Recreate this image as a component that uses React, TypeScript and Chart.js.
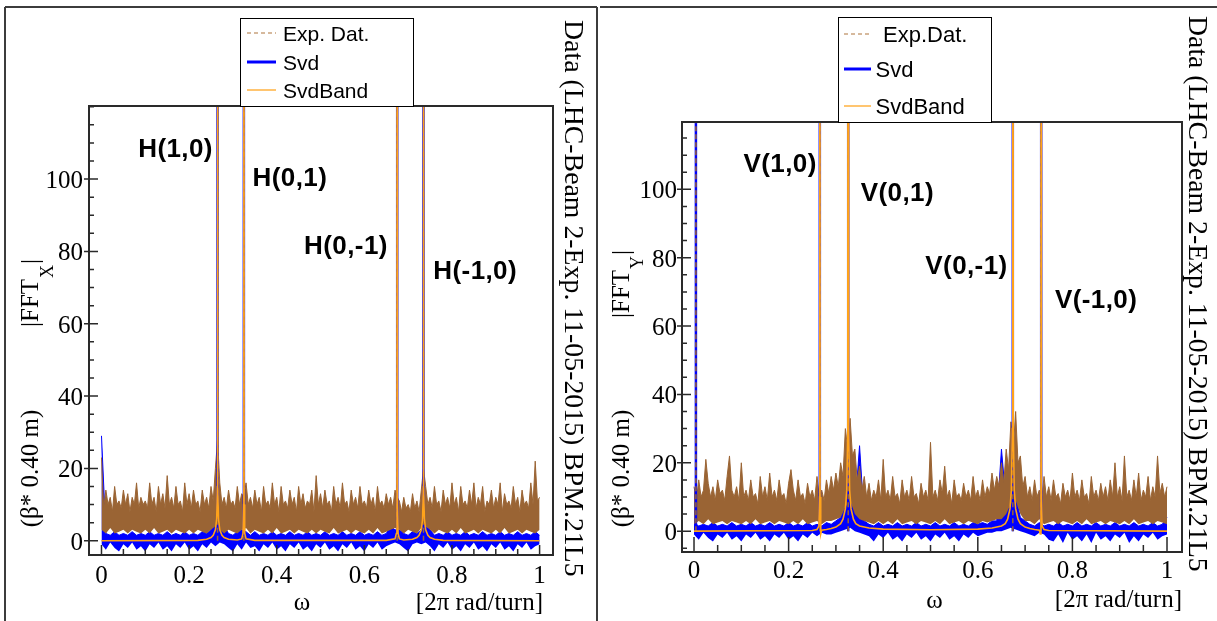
import React, { useEffect, useRef } from "react";
import { Chart, registerables } from "chart.js";

Chart.register(...registerables);

// ---------------- data ----------------
const EXP_STEP = 0.005; // omega spacing of the Exp. Dat. upper envelope (0.000 ... 1.000)
const BIN_STEP = 0.01; // omega spacing of the other envelopes (0.00 ... 1.00)

const X_TICK_VALUES = [0, 0.2, 0.4, 0.6, 0.8, 1];
const X_TICK_LABELS = ["0", "0.2", "0.4", "0.6", "0.8", "1"];
const Y_TICK_VALUES = [0, 20, 40, 60, 80, 100];
const Y_TICK_LABELS = ["0", "20", "40", "60", "80", "100"];
const X_MINOR_STEP = 0.05;
const Y_MINOR_STEP = 5;

const LEGEND_LABELS_H = ["Exp. Dat.", "Svd", "SvdBand"];
const LEGEND_LABELS_V = ["Exp.Dat.", "Svd", "SvdBand"];
const SIDE_TEXT = "Data (LHC-Beam 2-Exp. 11-05-2015) BPM.21L5";

// Horizontal plane (left)
const H_EXP_HI = [
  23, 9, 14, 10, 12, 8, 15, 10, 11, 9, 14, 10, 13, 8, 12, 10, 16, 9, 12, 10,
  11, 9, 16, 10, 12, 8, 15, 10, 13, 9, 18, 10, 12, 9, 15, 10, 11, 8, 16, 10,
  13, 9, 14, 10, 11, 8, 14, 10, 12, 9, 15, 11, 20, 28, 16, 10, 12, 9, 14, 10,
  11, 9, 15, 10, 13, 12, 16, 10, 12, 9, 14, 10, 12, 8, 15, 10, 11, 9, 16, 10,
  12, 8, 15, 10, 11, 9, 14, 10, 12, 8, 15, 10, 13, 9, 11, 10, 14, 8, 18, 10,
  13, 9, 14, 10, 11, 8, 15, 10, 12, 9, 16, 10, 11, 8, 14, 10, 12, 9, 15, 10,
  11, 9, 14, 10, 12, 8, 15, 10, 11, 9, 13, 10, 12, 9, 14, 12, 11, 8, 12, 9,
  10, 8, 13, 9, 11, 8, 14, 20, 15, 10, 12, 9, 15, 10, 11, 8, 14, 10, 12, 9,
  16, 10, 12, 8, 15, 10, 11, 9, 14, 10, 16, 9, 12, 10, 15, 8, 11, 10, 14, 9,
  12, 10, 16, 8, 13, 10, 11, 9, 15, 10, 12, 8, 14, 10, 11, 9, 16, 10, 22, 11,
  12,
];
const H_EXP_LO = [
  3, 2, 3.5, 2, 2.5, 3, 2, 3, 2.5, 2,
  3, 2, 3.5, 2, 2.5, 3, 2, 3, 2.5, 2,
  3, 2, 3, 2.5, 2, 3, 4, 3, 2, 3,
  2.5, 2, 3, 3.5, 2, 3, 2.5, 2, 3, 2,
  3.5, 2, 2.5, 3, 2, 3, 2.5, 2, 3, 2,
  3, 2.5, 2, 3.5, 2, 2.5, 3, 2, 3, 2.5,
  2, 3, 2, 3.5, 2, 2.5, 3, 3.5, 3, 2,
  3, 2.5, 2, 3.5, 4, 3, 2, 3, 2.5, 2,
  3, 2, 3.5, 2, 2.5, 3, 2, 3, 2.5, 2,
  3, 2, 3.5, 2, 2.5, 3, 2, 3, 2.5, 2,
  3,
];
const H_SVD_HI = [
  29, 2, 1.5, 2.5, 1.5, 2, 1.5, 2.5, 1.5, 2,
  1.5, 2.5, 1.5, 2, 1.5, 2.5, 1.5, 2, 1.5, 2.5,
  1.5, 2, 1.5, 2.5, 2, 3, 5, 3, 4, 2,
  1.5, 2.5, 3, 2.5, 1.5, 2.5, 1.5, 2, 1.5, 2.5,
  1.5, 2, 1.5, 2.5, 1.5, 2, 1.5, 2.5, 1.5, 2,
  1.5, 2.5, 1.5, 2, 1.5, 2.5, 1.5, 2, 1.5, 2.5,
  1.5, 2, 1.5, 2.5, 1.5, 2, 4, 3, 3, 2,
  1.5, 2.5, 2, 3, 4, 3, 1.5, 2, 1.5, 2.5,
  1.5, 2, 1.5, 2.5, 1.5, 2, 1.5, 2.5, 1.5, 2,
  1.5, 2.5, 1.5, 2, 1.5, 2.5, 1.5, 2, 1.5, 2.5,
  1.5,
];
const H_SVD_LO = [
  -1, -2.5, -0.5, -2, -3, -1, -2, -0.5, -2.5, -1.5,
  -3, -1, -2, -0.5, -2.5, -1.5, -3, -1, -2, -0.5,
  -2.5, -1.5, -3, -1, -2, -0.5, -1.5, -0.5, -1, -2,
  -3, -1, -2.5, -0.5, -2, -1.5, -3, -1, -2, -0.5,
  -2.5, -1.5, -3, -1, -2, -0.5, -2.5, -1.5, -3, -1,
  -2, -0.5, -2.5, -1.5, -3, -1, -2, -0.5, -2.5, -1.5,
  -3, -1, -2, -0.5, -2.5, -1.5, -1, -0.5, -1, -2,
  -3, -1, -0.5, -1, -0.5, -1.5, -3, -1, -2, -0.5,
  -2.5, -1.5, -3, -1, -2, -0.5, -2.5, -1.5, -3, -1,
  -2, -0.5, -2.5, -1.5, -3, -1, -2, -0.5, -2.5, -1.5,
  -1,
];
const H_BAND_X = [
  0, 0.22, 0.24, 0.25, 0.255, 0.26, 0.263, 0.2645, 0.265, 0.2655,
  0.267, 0.27, 0.275, 0.28, 0.29, 0.31, 0.32, 0.323, 0.3245, 0.325,
  0.3255, 0.327, 0.33, 0.35, 0.65, 0.67, 0.673, 0.6745, 0.675, 0.6755,
  0.677, 0.68, 0.69, 0.71, 0.72, 0.725, 0.73, 0.733, 0.7345, 0.735,
  0.7355, 0.737, 0.74, 0.745, 0.75, 0.76, 0.78, 1,
];
const H_BAND_Y = [
  0, 0.1, 0.4, 0.9, 1.5, 3, 6, 15, 300, 15,
  6, 3, 1.5, 0.9, 0.4, 0.2, 0.5, 2, 10, 300,
  10, 2, 0.5, 0.1, 0.1, 0.5, 2, 10, 300, 10,
  2, 0.5, 0.2, 0.4, 0.9, 1.5, 3, 6, 15, 300,
  15, 6, 3, 1.5, 0.9, 0.4, 0.1, 0,
];
const H_PEAK_X = [0.265, 0.325, 0.675, 0.735];
const H_EXP_PEAK_Y = [420, 380, 400, 450];
const H_SVD_PEAK_Y = [440, 390, 410, 460];
const H_LABELS = ["H(1,0)", "H(0,1)", "H(0,-1)", "H(-1,0)"];
const H_LABEL_X = [0.169, 0.43, 0.558, 0.853];
const H_LABEL_Y = [108.0, 100.0, 81.3, 74.4];

// Vertical plane (right)
const V_EXP_HI = [
  13, 9, 15, 10, 12, 21, 14, 10, 13, 9, 15, 11, 12, 9, 16, 22, 12, 10, 13, 9,
  20, 10, 12, 9, 15, 10, 11, 8, 16, 10, 13, 9, 17, 10, 12, 9, 15, 10, 11, 8,
  14, 18, 12, 9, 15, 10, 11, 8, 14, 10, 12, 9, 16, 10, 12, 9, 15, 11, 16, 12,
  17, 13, 20, 16, 30, 24, 33, 22, 24, 15, 19, 12, 16, 10, 14, 9, 12, 10, 15, 9,
  21, 10, 12, 9, 16, 10, 11, 8, 15, 10, 12, 9, 16, 10, 11, 8, 14, 10, 12, 9,
  26, 10, 12, 9, 15, 11, 19, 10, 12, 8, 15, 10, 11, 9, 14, 10, 12, 9, 16, 10,
  12, 9, 15, 10, 13, 11, 17, 12, 16, 13, 20, 14, 24, 18, 32, 24, 35, 20, 22, 13,
  16, 10, 13, 9, 15, 10, 12, 9, 16, 10, 13, 9, 15, 10, 11, 8, 14, 10, 12, 9,
  17, 10, 12, 9, 15, 10, 11, 8, 16, 10, 12, 9, 14, 10, 13, 9, 15, 10, 20, 10,
  13, 9, 22, 10, 12, 9, 15, 10, 17, 9, 12, 10, 16, 9, 13, 10, 22, 11, 14, 10,
  13,
];
const V_EXP_LO = [
  2, 3, 2, 3.5, 2, 2.5, 3, 2, 3, 2.5,
  2, 3, 2, 3.5, 2, 2.5, 3, 2, 3, 2.5,
  2, 3, 2, 3.5, 2, 2.5, 3, 2, 3, 3,
  3.5, 4, 7, 9, 5, 3.5, 3, 2.5, 2, 3,
  2, 3, 2, 3.5, 2, 2.5, 3, 2, 3, 2.5,
  2, 3, 2, 3.5, 2, 2.5, 3, 2, 3, 2.5,
  2, 3, 2.5, 3, 3.5, 3.5, 5, 8, 9, 5,
  3, 3, 2, 3.5, 2, 2.5, 3, 2, 3, 2.5,
  2, 3, 2, 3.5, 2, 2.5, 3, 2, 3, 2.5,
  2, 3, 2, 3.5, 2, 2.5, 3, 2, 3, 2.5,
  2,
];
const V_SVD_HI = [
  2.5, 1.5, 2, 1.5, 2.5, 1.5, 2, 1.5, 2.5, 1.5,
  2, 1.5, 2.5, 1.5, 2, 1.5, 2.5, 1.5, 2, 1.5,
  2.5, 1.5, 2, 1.5, 2.5, 1.5, 2, 1.5, 2.5, 2,
  3, 4, 10, 12, 6, 25, 3, 2, 1.5, 2.5,
  1.5, 2, 1.5, 2.5, 1.5, 2, 1.5, 2.5, 1.5, 2,
  1.5, 2.5, 1.5, 2, 1.5, 2.5, 1.5, 2, 1.5, 2.5,
  2, 2.5, 2, 3, 3, 24, 8, 12, 10, 4,
  3, 2, 1.5, 2.5, 1.5, 2, 1.5, 2.5, 1.5, 2,
  1.5, 2.5, 1.5, 2, 1.5, 2.5, 1.5, 2, 1.5, 2.5,
  1.5, 2, 1.5, 2.5, 1.5, 2, 1.5, 2.5, 1.5, 2,
  4,
];
const V_SVD_LO = [
  -1, -2.5, -0.5, -2, -3, -1, -2, -0.5, -2.5, -1.5,
  -3, -1, -2, -0.5, -2.5, -1.5, -3, -1, -2, -0.5,
  -2.5, -1.5, -3, -1, -2, -0.5, -1.5, -0.5, -1, -1,
  -0.5, 0, 0.5, 1, 0, -0.5, -1, -1.5, -3, -1,
  -2, -0.5, -2.5, -1.5, -3, -1, -2, -0.5, -2.5, -1.5,
  -3, -1, -2, -0.5, -2.5, -1.5, -3, -1, -2, -0.5,
  -1.5, -1, -0.5, -0.5, 0, 0, 0.5, 1, 0.5, 0,
  -0.5, -1, -1.5, -0.5, -1, -2.5, -3, -1, -3.5, -0.5,
  -2.5, -1.5, -3, -1, -3.5, -0.5, -2.5, -1.5, -3, -1,
  -2, -0.5, -3.5, -1.5, -3, -1, -2, -0.5, -2.5, -1.5,
  -1,
];
const V_BAND_X = [
  0, 0.25, 0.26, 0.264, 0.2655, 0.266, 0.2665, 0.268, 0.27, 0.28,
  0.29, 0.3, 0.31, 0.315, 0.32, 0.323, 0.325, 0.326, 0.327, 0.329,
  0.332, 0.337, 0.342, 0.35, 0.37, 0.4, 0.5, 0.6, 0.63, 0.65,
  0.658, 0.663, 0.668, 0.671, 0.673, 0.674, 0.675, 0.677, 0.68, 0.685,
  0.69, 0.7, 0.71, 0.72, 0.73, 0.732, 0.7335, 0.734, 0.7345, 0.736,
  0.74, 0.75, 1,
];
const V_BAND_Y = [
  0, 0.2, 0.5, 1.5, 10, 300, 10, -0.8, 0.3, 0.5,
  0.8, 1.2, 2.2, 3.5, 6.5, 12, 30, 300, 30, 12,
  6.5, 3.5, 2.2, 1.5, 0.9, 0.6, 0.4, 0.6, 0.9, 1.5,
  2.2, 3.5, 6.5, 12, 30, 300, 30, 12, 6.5, 3.5,
  2.2, 1.2, 0.8, 0.5, 0.3, -0.8, 10, 300, 10, 1.5,
  0.5, 0.2, 0,
];
const V_PEAK_X = [0.004, 0.266, 0.326, 0.674, 0.734];
const V_EXP_PEAK_Y = [520, 410, 500, 480, 420];
const V_SVD_PEAK_Y = [560, 430, 520, 500, 440];
const V_LABELS = ["V(1,0)", "V(0,1)", "V(0,-1)", "V(-1,0)"];
const V_LABEL_X = [0.182, 0.43, 0.576, 0.85];
const V_LABEL_Y = [107.1, 98.8, 77.3, 67.3];

// ---------------- styles ----------------
const EXP_COLOR = "#9a6434";
const EXP_LEGEND_COLOR = "#c9a27e";
const SVD_COLOR = "#0000ff";
const BAND_COLOR = "#ffa31a";
const BAND_LEGEND_COLOR = "#ffb240";
const SERIF = '"Liberation Serif", "Times New Roman", serif';
const SANS = '"Liberation Sans", Arial, sans-serif';

const onGrid = (vals: number[], step: number) =>
  vals.map((y, i) => ({ x: Math.round(i * step * 10000) / 10000, y }));
const pairs = (xs: number[], ys: number[]) => xs.map((x, i) => ({ x, y: ys[i] }));
const spikes = (xs: number[], ys: number[]) => {
  const out: { x: number; y: number | null }[] = [];
  xs.forEach((x, i) => {
    out.push({ x, y: 0 }, { x, y: ys[i] }, { x, y: null });
  });
  return out;
};

const LEFT_PANEL = {
  axisLetter: "X",
  expHi: H_EXP_HI, expLo: H_EXP_LO, svdHi: H_SVD_HI, svdLo: H_SVD_LO,
  bandX: H_BAND_X, bandY: H_BAND_Y,
  expPeakX: H_PEAK_X, expPeakY: H_EXP_PEAK_Y, svdPeakX: H_PEAK_X, svdPeakY: H_SVD_PEAK_Y,
  labels: H_LABELS, labelX: H_LABEL_X, labelY: H_LABEL_Y,
  legendLabels: LEGEND_LABELS_H,
  xMin: -0.0285, xMax: 1.0306, yMin: -3.95, yMax: 120.2,
  layout: {
    padding: { left: 89, right: 47, top: 106, bottom: 66 },
    outer: [[5, 7, 5, 640], [5, 7, 597, 7], [597, 7, 597, 640]],
    yLabelRight: 83, xLabelBaseline: 583,
    xMajorLen: 10, xMinorLen: 6, yMajorIn: 9, yMajorOut: 5, yMinorIn: 5,
    titleBaseX: 38, fftBottom: 327, subDrop: 15, betaCenterY: 468.5,
    omegaX: 302, omegaBase: 610, unitRight: 543, unitBase: 610,
    sideBaseX: 565, sideTop: 20, sideLen: 557,
    legend: { x: 240, y: 18, w: 173, h: 88, rows: [33, 62, 90], lx0: 247, lx1: 276, tx: [283, 283, 283], font: 21 },
  },
};

const RIGHT_PANEL = {
  axisLetter: "Y",
  expHi: V_EXP_HI, expLo: V_EXP_LO, svdHi: V_SVD_HI, svdLo: V_SVD_LO,
  bandX: V_BAND_X, bandY: V_BAND_Y,
  expPeakX: V_PEAK_X, expPeakY: V_EXP_PEAK_Y, svdPeakX: V_PEAK_X, svdPeakY: V_SVD_PEAK_Y,
  labels: V_LABELS, labelX: V_LABEL_X, labelY: V_LABEL_Y,
  legendLabels: LEGEND_LABELS_V,
  xMin: -0.0254, xMax: 1.0317, yMin: -6.1, yMax: 119.7,
  layout: {
    padding: { left: 82, right: 35, top: 122, bottom: 69 },
    outer: [[0, 7, 617, 7]],
    yLabelRight: 77, xLabelBaseline: 578,
    xMajorLen: 15, xMinorLen: 7, yMajorIn: 9, yMajorOut: 5, yMinorIn: 5,
    titleBaseX: 29, fftBottom: 318, subDrop: 14, betaCenterY: 468.5,
    omegaX: 334.5, omegaBase: 608, unitRight: 582, unitBase: 607,
    sideBaseX: 589, sideTop: 16, sideLen: 556,
    legend: { x: 238, y: 17, w: 153, h: 105, rows: [34, 69, 106], lx0: 244, lx1: 271, tx: [283, 275.5, 275.5], font: 22 },
  },
};

function decorPlugin(P: any) {
  return {
    id: "decor",
    afterDraw(chart: any) {
      const ctx: CanvasRenderingContext2D = chart.ctx;
      const ca = chart.chartArea;
      const xs = chart.scales.x;
      const ys = chart.scales.y;
      const L = P.layout;
      ctx.save();

      // outer pad frame
      ctx.strokeStyle = "#3c3c3c";
      ctx.lineWidth = 2;
      ctx.beginPath();
      for (const s of L.outer) {
        ctx.moveTo(s[0], s[1]);
        ctx.lineTo(s[2], s[3]);
      }
      ctx.stroke();

      // plot frame
      ctx.strokeStyle = "#2a2a2a";
      ctx.lineWidth = 2;
      ctx.strokeRect(ca.left, ca.top, ca.right - ca.left, ca.bottom - ca.top);

      // ticks
      ctx.lineWidth = 1.5;
      ctx.beginPath();
      for (let k = Math.ceil(ys.min / Y_MINOR_STEP); k * Y_MINOR_STEP <= ys.max; k++) {
        const v = k * Y_MINOR_STEP;
        const py = ys.getPixelForValue(v);
        const major = Y_TICK_VALUES.includes(v);
        ctx.moveTo(ca.left - (major ? L.yMajorOut : 0), py);
        ctx.lineTo(ca.left + (major ? L.yMajorIn : L.yMinorIn), py);
      }
      for (let k = 0; k * X_MINOR_STEP <= 1 + 1e-9; k++) {
        const v = k * X_MINOR_STEP;
        const px = xs.getPixelForValue(v);
        const major = k % 4 === 0;
        ctx.moveTo(px, ca.bottom);
        ctx.lineTo(px, ca.bottom - (major ? L.xMajorLen : L.xMinorLen));
      }
      ctx.stroke();

      // tick labels
      ctx.fillStyle = "#000";
      ctx.font = `25px ${SERIF}`;
      ctx.textBaseline = "alphabetic";
      ctx.textAlign = "right";
      Y_TICK_VALUES.forEach((v, i) => {
        ctx.fillText(Y_TICK_LABELS[i], L.yLabelRight, ys.getPixelForValue(v) + 9);
      });
      ctx.textAlign = "center";
      X_TICK_VALUES.forEach((v, i) => {
        ctx.fillText(X_TICK_LABELS[i], xs.getPixelForValue(v), L.xLabelBaseline);
      });

      // x title
      ctx.textAlign = "center";
      ctx.fillText("\u03c9", L.omegaX, L.omegaBase);
      ctx.textAlign = "right";
      ctx.fillText("[2\u03c0 rad/turn]", L.unitRight, L.unitBase);

      // y title (rotated)
      ctx.save();
      ctx.translate(L.titleBaseX, L.fftBottom);
      ctx.rotate(-Math.PI / 2);
      ctx.textAlign = "left";
      ctx.font = `25px ${SERIF}`;
      ctx.fillText("|FFT", 0, 0);
      let w = ctx.measureText("|FFT").width + 1;
      ctx.font = `18px ${SERIF}`;
      ctx.fillText(P.axisLetter, w, L.subDrop);
      w += ctx.measureText(P.axisLetter).width + 1;
      ctx.font = `25px ${SERIF}`;
      ctx.fillText("|", w, 0);
      ctx.restore();

      ctx.save();
      ctx.translate(L.titleBaseX, L.betaCenterY);
      ctx.rotate(-Math.PI / 2);
      ctx.textAlign = "center";
      ctx.font = `25px ${SERIF}`;
      ctx.fillText("(\u03b2* 0.40 m)", 0, 0);
      ctx.restore();

      // side text
      ctx.save();
      ctx.translate(L.sideBaseX, L.sideTop);
      ctx.rotate(Math.PI / 2);
      ctx.font = `25px ${SERIF}`;
      const sw = ctx.measureText(SIDE_TEXT).width;
      ctx.font = `${(25 * L.sideLen) / sw}px ${SERIF}`;
      ctx.textAlign = "left";
      ctx.fillText(SIDE_TEXT, 0, 0);
      ctx.restore();

      // peak annotations
      ctx.font = `bold 26px ${SANS}`;
      (ctx as any).letterSpacing = "0.4px";
      ctx.textAlign = "center";
      ctx.textBaseline = "middle";
      P.labels.forEach((t: string, i: number) => {
        ctx.fillText(t, xs.getPixelForValue(P.labelX[i]), ys.getPixelForValue(P.labelY[i]));
      });
      (ctx as any).letterSpacing = "0px";

      // legend
      const G = L.legend;
      ctx.fillStyle = "#fff";
      ctx.fillRect(G.x, G.y, G.w, G.h);
      ctx.strokeStyle = "#000";
      ctx.lineWidth = 1;
      ctx.strokeRect(G.x + 0.5, G.y + 0.5, G.w, G.h);
      const styles = [
        { c: EXP_LEGEND_COLOR, w: 1.5, d: [4, 3] },
        { c: SVD_COLOR, w: 3, d: [] },
        { c: BAND_LEGEND_COLOR, w: 1.5, d: [] },
      ];
      styles.forEach((s, i) => {
        ctx.beginPath();
        ctx.setLineDash(s.d);
        ctx.strokeStyle = s.c;
        ctx.lineWidth = s.w;
        ctx.moveTo(G.lx0, G.rows[i]);
        ctx.lineTo(G.lx1, G.rows[i]);
        ctx.stroke();
      });
      ctx.setLineDash([]);
      ctx.fillStyle = "#000";
      ctx.font = `${G.font}px ${SANS}`;
      ctx.textAlign = "left";
      ctx.textBaseline = "alphabetic";
      P.legendLabels.forEach((t: string, i: number) => {
        ctx.fillText(t, G.tx[i], G.rows[i] + 7.5);
      });

      ctx.restore();
    },
  };
}

function buildChart(canvas: HTMLCanvasElement, P: any) {
  const datasets: any[] = [
    { label: "SvdBand", data: pairs(P.bandX, P.bandY), borderColor: BAND_COLOR, borderWidth: 1.6, fill: false, order: 0 },
    { label: "ExpPeaks", data: spikes(P.expPeakX, P.expPeakY), borderColor: EXP_COLOR, borderWidth: 1.5, borderDash: [5, 3], fill: false, order: 1 },
    { label: "SvdPeaks", data: spikes(P.svdPeakX, P.svdPeakY), borderColor: SVD_COLOR, borderWidth: 2.5, fill: false, order: 2 },
    { label: "Exp. Dat.", data: onGrid(P.expHi, EXP_STEP), borderColor: EXP_COLOR, backgroundColor: EXP_COLOR, borderWidth: 1, fill: 4, order: 3 },
    { label: "ExpLow", data: onGrid(P.expLo, BIN_STEP), borderColor: "rgba(0,0,0,0)", borderWidth: 0, fill: false, order: 4 },
    { label: "Svd", data: onGrid(P.svdHi, BIN_STEP), borderColor: SVD_COLOR, backgroundColor: SVD_COLOR, borderWidth: 1, fill: 6, order: 5 },
    { label: "SvdLow", data: onGrid(P.svdLo, BIN_STEP), borderColor: "rgba(0,0,0,0)", borderWidth: 0, fill: false, order: 6 },
  ];
  return new Chart(canvas, {
    type: "line",
    data: { datasets },
    options: {
      animation: false,
      responsive: false,
      maintainAspectRatio: false,
      devicePixelRatio: 1,
      events: [],
      layout: { padding: P.layout.padding },
      elements: { point: { radius: 0 }, line: { tension: 0 } },
      scales: {
        x: { type: "linear", min: P.xMin, max: P.xMax, display: false },
        y: { type: "linear", min: P.yMin, max: P.yMax, display: false },
      },
      plugins: { legend: { display: false }, tooltip: { enabled: false } },
    },
    plugins: [decorPlugin(P)],
  } as any);
}

export default function App() {
  const leftRef = useRef<HTMLCanvasElement>(null);
  const rightRef = useRef<HTMLCanvasElement>(null);
  useEffect(() => {
    const a = buildChart(leftRef.current!, LEFT_PANEL);
    const b = buildChart(rightRef.current!, RIGHT_PANEL);
    return () => {
      a.destroy();
      b.destroy();
    };
  }, []);
  return (
    <div style={{ position: "absolute", left: 0, top: 0, width: 1217, height: 621, background: "#fff", overflow: "hidden" }}>
      <canvas ref={leftRef} width={600} height={621} style={{ position: "absolute", left: 0, top: 0 }} />
      <canvas ref={rightRef} width={617} height={621} style={{ position: "absolute", left: 600, top: 0 }} />
    </div>
  );
}
